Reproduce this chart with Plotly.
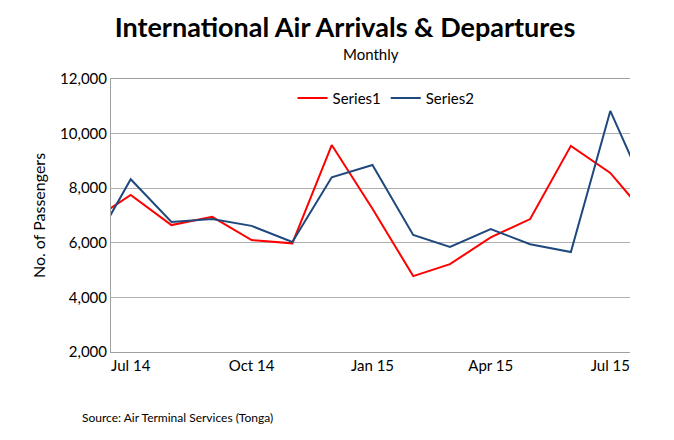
import plotly.graph_objects as go

months = ["2014-06-01","2014-07-01","2014-08-01","2014-09-01","2014-10-01","2014-11-01","2014-12-01",
          "2015-01-01","2015-02-01","2015-03-01","2015-04-01","2015-05-01","2015-06-01","2015-07-01","2015-08-01"]
series1 = [6800,7750,6650,6950,6100,5980,9580,7250,4780,5220,6200,6870,9550,8560,6800]
series2 = [5770,8330,6760,6870,6620,6030,8400,8850,6290,5850,6500,5950,5660,10830,7500]
tick_vals = ["2014-07-01","2014-10-01","2015-01-01","2015-04-01","2015-07-01"]
tick_text = ["Jul 14","Oct 14","Jan 15","Apr 15","Jul 15"]

F = "Lato, Carlito, Calibri, sans-serif"
fig = go.Figure()
fig.add_trace(go.Scatter(x=months, y=series1, mode="lines", name="Series1", line=dict(color="#ff0000", width=2)))
fig.add_trace(go.Scatter(x=months, y=series2, mode="lines", name="Series2", line=dict(color="#1f497d", width=2)))
fig.update_layout(
    width=674, height=440, paper_bgcolor="white", plot_bgcolor="white",
    margin=dict(l=103, r=52, t=71, b=96),
    font=dict(family=F, size=15, color="black"),
    title=dict(text="<b>International Air Arrivals & Departures</b>", x=0.5, xanchor="center", y=0.955, yanchor="middle",
               font=dict(size=27, family=F)),
    legend=dict(orientation="h", x=0.53, xanchor="center", y=0.99, yanchor="top", font=dict(size=15), bgcolor="rgba(0,0,0,0)"),
    xaxis=dict(type="date", range=["2014-06-16","2015-07-16"], tickvals=tick_vals, ticktext=tick_text,
               showgrid=False, showline=True, linecolor="#a0a0a0", mirror=True, ticks="", tickfont=dict(size=15)),
    yaxis=dict(range=[2000,12000], dtick=2000, tickformat=",", showgrid=True, gridcolor="#b0b0b0",
               showline=True, linecolor="#a0a0a0", zeroline=False, ticks="", tickfont=dict(size=15),
               title=dict(text="No. of Passengers", font=dict(size=16), standoff=10)),
    annotations=[
        dict(text="Monthly", x=0.5, xref="paper", y=(344-46)/273, yref="paper", yanchor="middle",
             showarrow=False, font=dict(size=15)),
        dict(text="Source: Air Terminal Services (Tonga)", x=(72-103)/519, xref="paper", xanchor="left",
             y=(344-409)/273, yref="paper", yanchor="middle", showarrow=False, font=dict(size=12)),
    ],
)
fig.write_html("out.html")
